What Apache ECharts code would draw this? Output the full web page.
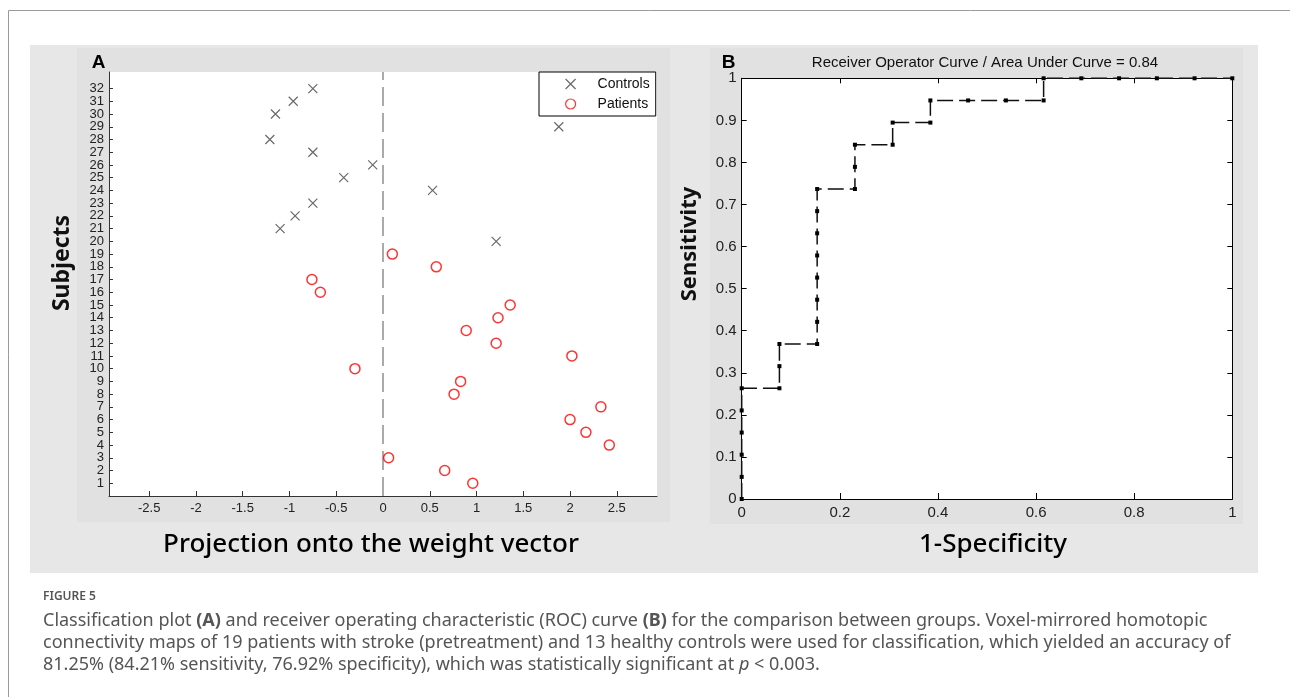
<!DOCTYPE html>
<html><head><meta charset="utf-8">
<script src="https://cdn.jsdelivr.net/npm/echarts@6/dist/echarts.min.js"></script>
<style>html,body{margin:0;padding:0;background:#fff}#c{width:1290px;height:697px}</style>
</head><body><div id="c"></div><script>
// ---------- Panel A data ----------
const subjectTicks = [1,2,3,4,5,6,7,8,9,10,11,12,13,14,15,16,17,18,19,20,21,22,23,24,25,26,27,28,29,30,31,32];
const projTicks = [-2.5,-2,-1.5,-1,-0.5,0,0.5,1,1.5,2,2.5];
const controlsSubject = [20,21,22,23,24,25,26,27,28,29,30,31,32];
const controlsProj    = [1.21,-1.10,-0.94,-0.75,0.53,-0.42,-0.11,-0.75,-1.21,1.88,-1.15,-0.96,-0.75];
const patientsSubject = [1,2,3,4,5,6,7,8,9,10,11,12,13,14,15,16,17,18,19];
const patientsProj    = [0.96,0.66,0.06,2.42,2.17,2.00,2.33,0.76,0.83,-0.30,2.02,1.21,0.89,1.23,1.36,-0.67,-0.76,0.57,0.10];
// ---------- Panel B data ----------
const rocFPR = [0,0,0,0,0,0,0.0769,0.0769,0.0769,0.1538,0.1538,0.1538,0.1538,0.1538,0.1538,0.1538,0.1538,0.2308,0.2308,0.2308,0.3077,0.3077,0.3846,0.3846,0.4615,0.5385,0.6154,0.6154,0.6923,0.7692,0.8462,0.9231,1];
const rocTPR = [0,0.0526,0.1053,0.1579,0.2105,0.2632,0.2632,0.3158,0.3684,0.3684,0.4211,0.4737,0.5263,0.5789,0.6316,0.6842,0.7368,0.7368,0.7895,0.8421,0.8421,0.8947,0.8947,0.9474,0.9474,0.9474,0.9474,1,1,1,1,1,1];
const aucValue = 0.84;

const chart = echarts.init(document.getElementById('c'), null, {renderer:'canvas'});
const sans = 'Liberation Sans';
const xPath = 'path://M0,0L10,10M10,0L0,10';

const caption = 'Classification plot {b|(A)} and receiver operating characteristic (ROC) curve {b|(B)} for the comparison between groups. Voxel-mirrored homotopic\n' +
  'connectivity maps of 19 patients with stroke (pretreatment) and 13 healthy controls were used for classification, which yielded an accuracy of\n' +
  '81.25% (84.21% sensitivity, 76.92% specificity), which was statistically significant at {i|p} < 0.003.';

chart.setOption({
  animation: false,
  backgroundColor: '#fff',
  title: {
    text: 'Receiver Operator Curve / Area Under Curve = ' + aucValue,
    left: 985, top: 55, textAlign: 'center', padding: 0,
    textStyle: {fontFamily: sans, fontSize: 15, fontWeight: 'normal', color: '#111'}
  },
  legend: {
    left: 539, top: 72, orient: 'vertical',
    data: ['Controls', 'Patients'],
    backgroundColor: '#fff', borderColor: '#000', borderWidth: 1, borderRadius: 0,
    padding: [5, 6, 5, 26], itemGap: 6, itemWidth: 44, itemHeight: 10,
    selectedMode: false,
    textStyle: {fontFamily: sans, fontSize: 14, color: '#111'},
    itemStyle: {borderWidth: 1.2}
  },
  grid: [
    {left: 109, top: 72, width: 548, height: 424, show: true, backgroundColor: '#fff', borderWidth: 0},
    {left: 741.7, top: 78.3, width: 490.6, height: 420.7, show: true, backgroundColor: '#fff', borderWidth: 0}
  ],
  xAxis: [
    {gridIndex: 0, type: 'value', min: -2.93, max: 2.93,
     axisLine: {show: true, onZero: false, lineStyle: {color: '#333', width: 1}},
     axisTick: {show: true, inside: true, length: 5, customValues: projTicks, lineStyle: {color: '#333'}},
     axisLabel: {customValues: projTicks, formatter: v => String(v), fontFamily: sans, fontSize: 13, color: '#222', margin: 6, hideOverlap: false},
     splitLine: {show: false}},
    {gridIndex: 1, type: 'value', min: 0, max: 1, interval: 0.2, position: 'bottom',
     axisLine: {show: true, onZero: false, lineStyle: {color: '#000', width: 1}},
     axisTick: {show: true, inside: true, length: 6, lineStyle: {color: '#000'}},
     axisLabel: {fontFamily: sans, fontSize: 15, color: '#222', margin: 6, showMinLabel: true, showMaxLabel: true},
     splitLine: {show: false}},
    {gridIndex: 1, type: 'value', min: 0, max: 1, interval: 0.2, position: 'top',
     axisLine: {show: true, onZero: false, lineStyle: {color: '#000', width: 1}},
     axisTick: {show: true, inside: true, length: 5, lineStyle: {color: '#000'}},
     axisLabel: {show: false}, splitLine: {show: false}}
  ],
  yAxis: [
    {gridIndex: 0, type: 'value', min: 0, max: 33.3, interval: 1,
     axisLine: {show: true, onZero: false, lineStyle: {color: '#333', width: 1}},
     axisTick: {show: true, inside: true, length: 4, customValues: subjectTicks, lineStyle: {color: '#333'}},
     axisLabel: {margin: 5, hideOverlap: false, fontFamily: sans, fontSize: 13, color: '#222',
                 formatter: v => (subjectTicks.indexOf(v) >= 0 ? String(v) : '')},
     splitLine: {show: false}},
    {gridIndex: 1, type: 'value', min: 0, max: 1, interval: 0.1, position: 'left',
     axisLine: {show: true, onZero: false, lineStyle: {color: '#000', width: 1}},
     axisTick: {show: true, inside: true, length: 5, lineStyle: {color: '#000'}},
     axisLabel: {fontFamily: sans, fontSize: 15, color: '#222', margin: 5, showMinLabel: true, showMaxLabel: true},
     splitLine: {show: false}},
    {gridIndex: 1, type: 'value', min: 0, max: 1, interval: 0.1, position: 'right',
     axisLine: {show: true, onZero: false, lineStyle: {color: '#000', width: 1}},
     axisTick: {show: true, inside: true, length: 5, lineStyle: {color: '#000'}},
     axisLabel: {show: false}, splitLine: {show: false}}
  ],
  series: [
    {name: 'Controls', type: 'scatter', xAxisIndex: 0, yAxisIndex: 0,
     symbol: xPath, symbolSize: 9,
     itemStyle: {color: 'rgba(0,0,0,0)', borderColor: '#444', borderWidth: 1.2},
     data: controlsProj.map((x, i) => [x, controlsSubject[i]]), z: 5},
    {name: 'Patients', type: 'scatter', xAxisIndex: 0, yAxisIndex: 0,
     symbol: 'circle', symbolSize: 10,
     itemStyle: {color: 'rgba(0,0,0,0)', borderColor: '#ff0000', borderWidth: 1.5},
     data: patientsProj.map((x, i) => [x, patientsSubject[i]]), z: 5,
     markLine: {silent: true, symbol: ['none', 'none'], label: {show: false},
       lineStyle: {color: '#aaaaaa', width: 2, type: [19, 7]},
       data: [{xAxis: 0}]}},
    {name: 'ROC', type: 'line', xAxisIndex: 1, yAxisIndex: 1,
     data: rocFPR.map((x, i) => [x, rocTPR[i]]),
     symbol: 'rect', symbolSize: 4, showSymbol: true, showAllSymbol: true, clip: false,
     lineStyle: {color: '#111', width: 1.5, type: [16, 6]},
     itemStyle: {color: '#000'}, z: 5}
  ],
  graphic: [
    {type: 'rect', z: -10, shape: {x: 8.5, y: 10.5, width: 1400, height: 800}, style: {fill: 'none', stroke: '#9a9a9a', lineWidth: 1}},
    {type: 'rect', z: -9, shape: {x: 30, y: 45, width: 1228, height: 528}, style: {fill: '#e7e7e7'}},
    {type: 'rect', z: -8, shape: {x: 77, y: 48, width: 593, height: 474}, style: {fill: '#e1e1e1'}},
    {type: 'rect', z: -8, shape: {x: 710, y: 48, width: 533, height: 476}, style: {fill: '#e1e1e1'}},
    {type: 'text', z: 10, x: 98.5, y: 63, style: {text: 'A', font: 'bold 19px "Liberation Sans"', fill: '#000', align: 'center', verticalAlign: 'middle', textAlign: 'center', textVerticalAlign: 'middle'}},
    {type: 'text', z: 10, x: 728.5, y: 62.5, style: {text: 'B', font: 'bold 19px "Liberation Sans"', fill: '#000', align: 'center', verticalAlign: 'middle', textAlign: 'center', textVerticalAlign: 'middle'}},
    {type: 'text', z: 10, x: 62, y: 263, rotation: Math.PI / 2, style: {text: 'Subjects', font: 'bold 23px "Noto Sans"', fill: '#111', align: 'center', verticalAlign: 'middle', textAlign: 'center', textVerticalAlign: 'middle'}},
    {type: 'text', z: 10, x: 690, y: 244, rotation: Math.PI / 2, style: {text: 'Sensitivity', font: 'bold 22px "Noto Sans"', fill: '#111', align: 'center', verticalAlign: 'middle', textAlign: 'center', textVerticalAlign: 'middle'}},
    {type: 'text', z: 10, x: 371, y: 545, style: {text: 'Projection onto the weight vector', font: '500 26px "Noto Sans"', fill: '#000', align: 'center', verticalAlign: 'middle', textAlign: 'center', textVerticalAlign: 'middle'}},
    {type: 'text', z: 10, x: 993, y: 545, style: {text: '1-Specificity', font: '500 26px "Noto Sans"', fill: '#000', align: 'center', verticalAlign: 'middle', textAlign: 'center', textVerticalAlign: 'middle'}},
    {type: 'text', z: 10, x: 43, y: 597, style: {text: 'FIGURE 5', font: '600 12px "Noto Sans"', fill: '#555', align: 'left', verticalAlign: 'middle', textAlign: 'left', textVerticalAlign: 'middle'}},
    {type: 'text', z: 10, x: 43, y: 610, style: {text: caption, fontFamily: 'Noto Sans', fontSize: 18, fill: '#555', lineHeight: 22, align: 'left', verticalAlign: 'top', textAlign: 'left', textVerticalAlign: 'top',
      rich: {b: {fontFamily: 'Noto Sans', fontSize: 18, fontWeight: 'bold', fill: '#555', color: '#555', lineHeight: 22},
             i: {fontFamily: 'Noto Sans', fontSize: 18, fontStyle: 'italic', fill: '#555', color: '#555', lineHeight: 22}}}}
  ]
});
</script></body></html>
